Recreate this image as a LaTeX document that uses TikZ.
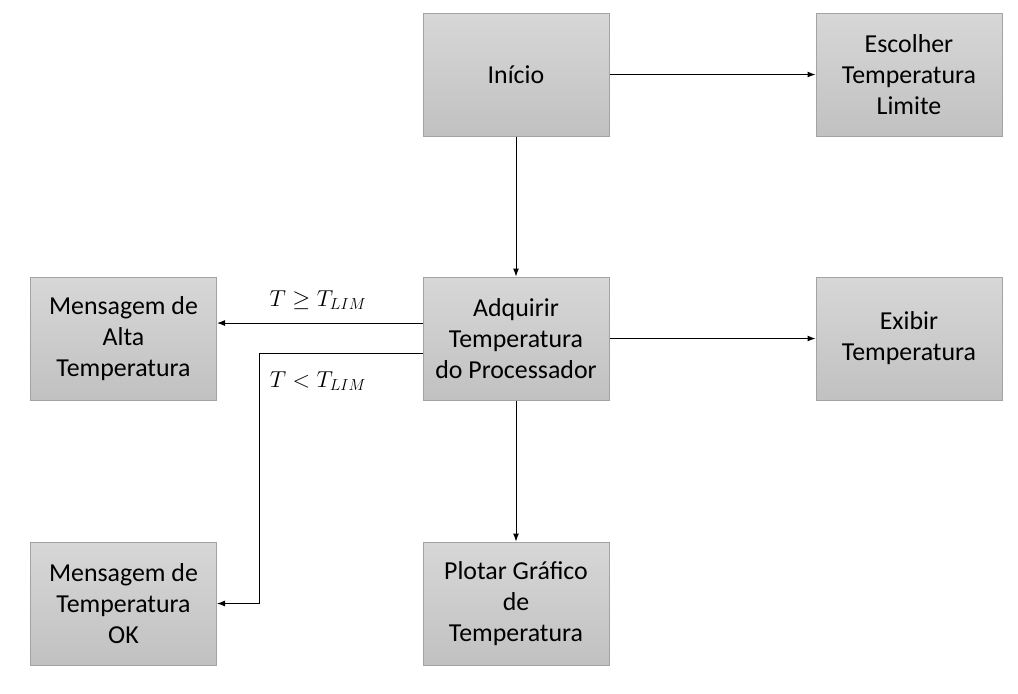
\documentclass[tikz,border=0pt]{standalone}
\usepackage{fontspec}
\setmainfont{Carlito}
\usetikzlibrary{arrows.meta}
\definecolor{boxtop}{HTML}{D7D7D7}
\definecolor{boxbot}{HTML}{C1C1C1}
\definecolor{boxedge}{HTML}{A3A3A3}
\begin{document}
\begin{tikzpicture}[x=0.75pt,y=-0.75pt,
  box/.style={draw=boxedge, top color=boxtop, bottom color=boxbot,
    minimum width=139.5pt, minimum height=92.25pt, align=center,
    font=\fontsize{19.4}{23.25}\selectfont, inner sep=0pt, line width=0.75pt},
  conn/.style={-{Latex[length=6pt,width=4.5pt]}, line width=0.75pt},
  lbl/.style={font=\fontsize{18.75}{23.25}\selectfont, inner sep=0pt}]
\useasboundingbox (0,0) rectangle (1018,693);
\node[box] (inicio) at (516,74.5) {Início};
\node[box] (escolher) at (909,74.5) {Escolher\\Temperatura\\Limite};
\node[box] (adq) at (516,338.5) {Adquirir\\Temperatura\\do Processador};
\node[box] (alta) at (123.5,338.5) {Mensagem de\\Alta\\Temperatura};
\node[box] (exibir) at (909,338.5) {Exibir\\Temperatura};
\node[box] (ok) at (123.5,603.5) {Mensagem de\\Temperatura\\OK};
\node[box] (plotar) at (516,603.5) {Plotar Gráfico\\de\\Temperatura};
\draw[conn] (inicio) -- (escolher);
\draw[conn] (inicio) -- (adq);
\draw[conn] ([yshift=11.6pt]adq.west) -- ([yshift=11.6pt]alta.east);
\draw[conn] ([yshift=-11.25pt]adq.west) -- ++(-163,0) |- (ok.east);
\draw[conn] (adq) -- (exibir);
\draw[conn] (adq) -- (plotar);
\node[lbl] (l1) at (318,300) {$T \geq T_{LIM}$};
\node[lbl] (l2) at (318,381) {$T < T_{LIM}$};
\end{tikzpicture}
\end{document}
